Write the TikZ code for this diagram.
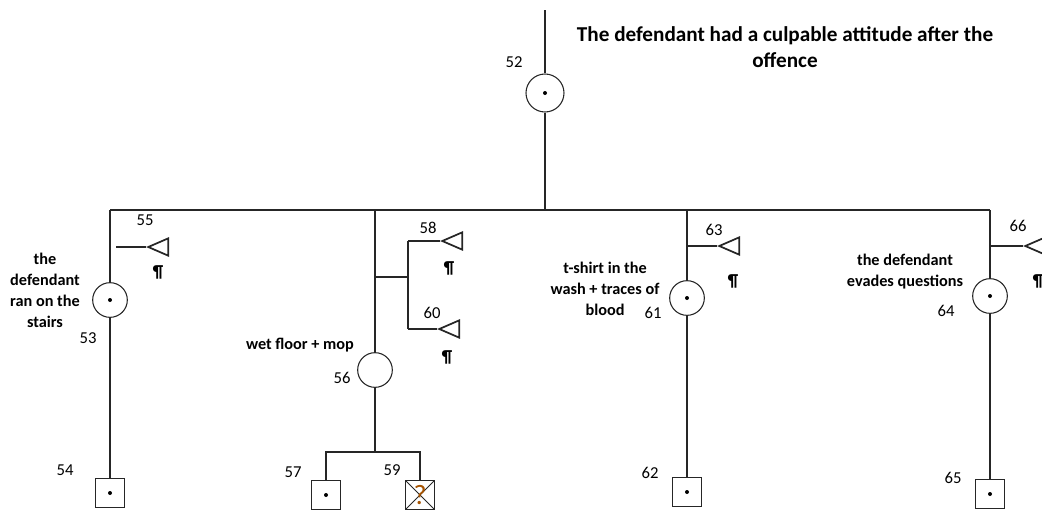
\documentclass[tikz,border=0pt]{standalone}
\usepackage{fontspec}
\setmainfont{Carlito}
\usetikzlibrary{shapes.geometric}

\begin{document}
\begin{tikzpicture}[x=0.75pt,y=-0.75pt,line width=0.8pt,draw=black!85]
    \tikzstyle{event}=[circle,draw,minimum size=26pt,inner sep=0pt]
    \tikzstyle{dot event}=[event,path picture={\fill (path picture bounding box.center) circle (1.5pt);}]
    \tikzstyle{leaf}=[rectangle,draw,minimum size=21.5pt,inner sep=0pt]
    \tikzstyle{dot leaf}=[leaf,path picture={\fill (path picture bounding box.center) circle (1.5pt);}]
    \tikzstyle{crossed leaf}=[leaf,
        label={[text=orange!65!black,font=\fontsize{21}{21}\selectfont,inner sep=0pt]center:?},
        path picture={\draw[line width=0.6pt] (path picture bounding box.north west) -- (path picture bounding box.south east)
                      (path picture bounding box.south west) -- (path picture bounding box.north east);}]
    \tikzstyle{source}=[isosceles triangle,isosceles triangle stretches,shape border rotate=180,draw,line width=1.3pt,
        minimum width=13pt,minimum height=15pt,inner sep=0pt,anchor=apex]
    \tikzstyle{num}=[font=\fontsize{12.5}{14}\selectfont,inner sep=0pt]
    \tikzstyle{pilcrow}=[font=\fontsize{13}{14}\selectfont\bfseries,inner sep=0pt]
    \tikzstyle{annot}=[font=\fontsize{12.2}{15.8}\selectfont\bfseries,align=center,inner sep=0pt]

    \useasboundingbox (0,0) rectangle (1042,511);

    % Draw the top event
    \coordinate (top) at (545,10);
    \node[dot event,minimum size=28.5pt] (C-52) at (545,93) {};
    \node[annot,font=\fontsize{15.9}{20}\selectfont\bfseries] (title) at (785,47)
        {The defendant had a culpable attitude after the\\offence};

    % Draw the branch bar
    \coordinate (J-53) at (110,210);
    \coordinate (J-56) at (375,210);
    \coordinate (J-52) at (545,210);
    \coordinate (J-61) at (687,210);
    \coordinate (J-64) at (990,210);
    \draw (top) -- (C-52) -- (J-52);
    \draw (J-53) -- (J-64);

    % Draw the circles of the branches
    \node[dot event] (C-53) at (110,300) {};
    \node[event] (C-56) at (375,370) {};
    \node[dot event] (C-61) at (687,298) {};
    \node[dot event] (C-64) at (990,296) {};

    % Draw the squares at the bottom
    \node[dot leaf] (S-54) at (110,493) {};
    \node[dot leaf] (S-57) at (326,495) {};
    \node[crossed leaf] (S-59) at (420,495) {};
    \node[dot leaf] (S-62) at (687,492) {};
    \node[dot leaf] (S-65) at (990,494) {};

    % Draw the triangles
    \node[source] (T-55) at (146,247) {};
    \node[source] (T-58) at (440,241) {};
    \node[source] (T-60) at (437,329) {};
    \node[source] (T-63) at (717,246) {};
    \node[source] (T-66) at (1023,246) {};

    % Connect the branches
    \foreach \j / \c / \s in {53/53/54, 61/61/62, 64/64/65}
        \draw (J-\j) -- (C-\c) -- (S-\s);
    \draw (J-56) -- (C-56);

    % Side links to the triangles
    \coordinate (F-55) at (116,247);
    \coordinate (F-63) at (687,246);
    \coordinate (F-66) at (990,246);
    \foreach \t in {55,63,66}
        \draw (F-\t) -- (T-\t.apex);
    \coordinate (F-1) at (375,277);
    \coordinate (F-2) at (408,277);
    \coordinate (F-58) at (408,241);
    \coordinate (F-60) at (408,329);
    \draw (F-1) -- (F-2);
    \draw (F-58) -- (F-60);
    \draw (F-58) -- (T-58.apex);
    \draw (F-60) -- (T-60.apex);

    % Split under circle 56
    \coordinate (G) at (375,452);
    \draw (C-56) -- (G);
    \draw (S-57) |- (G) -| (S-59);

    % Pilcrows under the triangles
    \foreach \t / \x / \y in {55/158/272, 58/449/268, 60/447/357, 63/733/281, 66/1038/281}
        \node[pilcrow] (P-\t) at (\x,\y) {¶};

    % Numbers
    \foreach \n / \x / \y in {52/514/62, 55/145/220, 53/88/338, 54/65/470, 56/342/378,
                              57/293/472, 58/428/228, 59/392/470, 60/432/313, 61/653/313,
                              62/650/473, 63/714/230, 64/946/311, 65/953/478, 66/1018/226}
        \node[num] (N-\n) at (\x,\y) {\n};

    % Annotate the events
    \node[annot] (A-53) at (45,290) {the\\defendant\\ran on the\\stairs};
    \node[annot] (A-56) at (300,345) {wet floor + mop};
    \node[annot] (A-61) at (605,289) {t-shirt in the\\wash + traces of\\blood};
    \node[annot] (A-64) at (905,272) {the defendant\\evades questions};
\end{tikzpicture}
\end{document}
